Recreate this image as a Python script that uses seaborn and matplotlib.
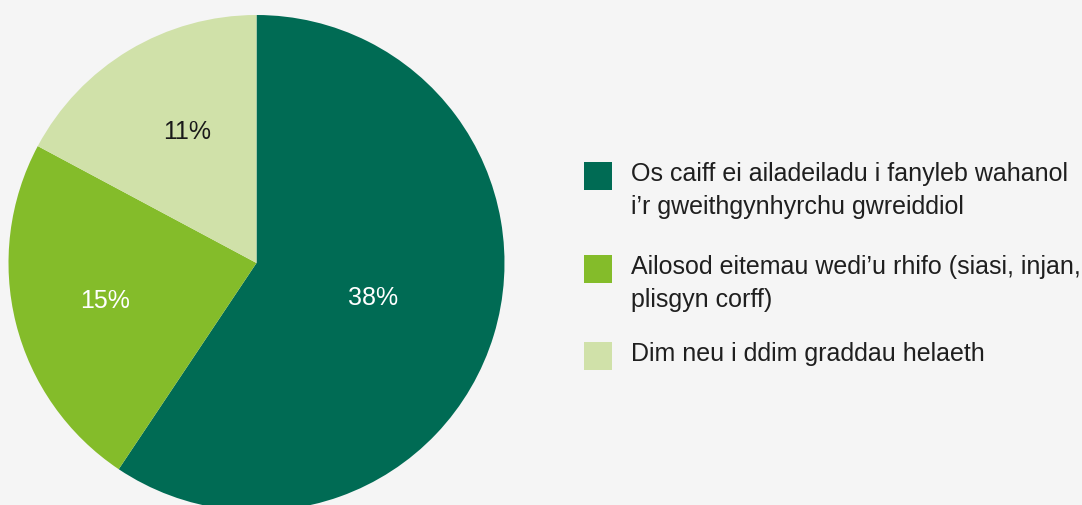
import numpy as np
import matplotlib
matplotlib.use("Agg")
import matplotlib.pyplot as plt
from matplotlib.patches import Rectangle
import seaborn as sns

# Survey shares (percent) and their descriptions
categories = [
    "Os caiff ei ailadeiladu i fanyleb wahanol\ni\u2019r gweithgynhyrchu gwreiddiol",
    "Ailosod eitemau wedi\u2019u rhifo (siasi, injan,\nplisgyn corff)",
    "Dim neu i ddim graddau helaeth",
]
values = [38, 15, 11]
colors = ["#006B54", "#84BC2A", "#D0E1A9"]
label_colors = ["white", "white", "#1a1a1a"]

sns.set_theme(style="white")
plt.rcParams["font.family"] = ["Liberation Sans", "DejaVu Sans"]

W, H = 1082, 505
fig = plt.figure(figsize=(W / 100, H / 100), dpi=100, facecolor="#F5F5F5")
ax = fig.add_axes([0, 0, 1, 1])
ax.set_facecolor("#F5F5F5")

cx, cy, r = 256.5, H - 263, 248
wedges, _ = ax.pie(values, colors=colors, startangle=90, counterclock=False,
                   center=(cx, cy), radius=r, frame=True,
                   wedgeprops=dict(linewidth=0))
ax.set_xlim(0, W)
ax.set_ylim(0, H)
ax.set_aspect("equal")
ax.axis("off")

# Value labels placed along each wedge's mid-angle
label_dist = [0.49, 0.63, 0.60]
label_turn = [0, 0, -3]
for w, v, d, t, c in zip(wedges, values, label_dist, label_turn, label_colors):
    mid = np.deg2rad((w.theta1 + w.theta2) / 2 + t)
    ax.text(cx + d * r * np.cos(mid), cy + d * r * np.sin(mid), f"{v}%",
            ha="center", va="center", fontsize=18, color=c)

# Legend
key = 28
key_x = 584
rows_y = [176, 269, 356]
for lab, col, yc in zip(categories, colors, rows_y):
    ax.add_patch(Rectangle((key_x, H - yc - key / 2), key, key, facecolor=col,
                           edgecolor="none"))
    ax.text(631, H - yc + 14, lab, ha="left", va="top", fontsize=18,
            color="#1f1f1f", linespacing=1.45)

fig.savefig("out.png", dpi=100, facecolor=fig.get_facecolor())
